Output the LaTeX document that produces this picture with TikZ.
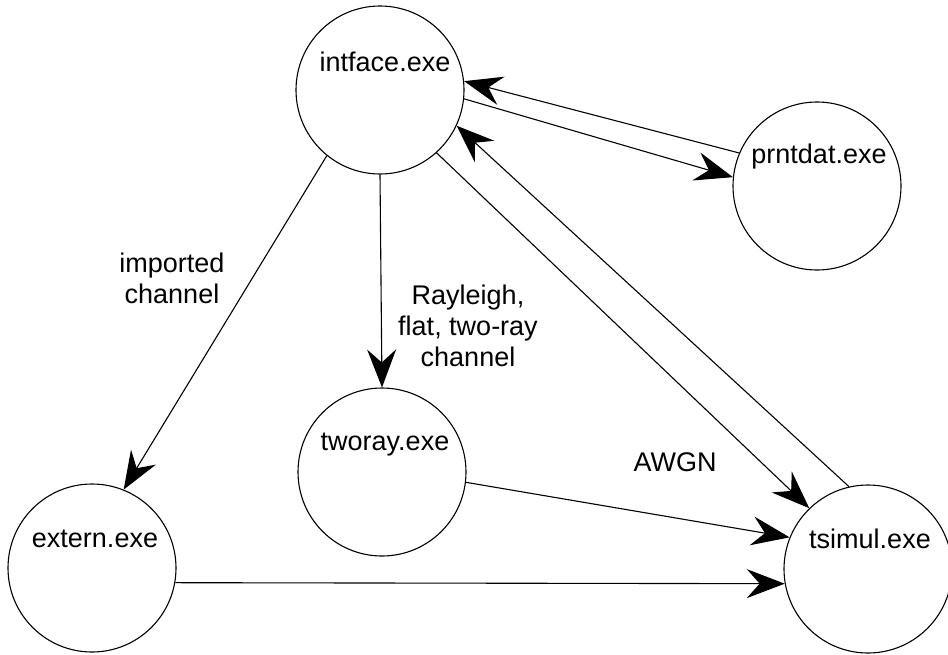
\documentclass[tikz,border=0pt]{standalone}
\usepackage{fontspec}
\setmainfont{Liberation Sans}
\usetikzlibrary{arrows.meta}
\begin{document}
\begin{tikzpicture}[x=1pt,y=-1pt,
  proc/.style={draw, circle, minimum size=168pt, inner sep=0pt, line width=1.1pt},
  lbl/.style={font=\fontsize{27}{31}\selectfont, inner sep=0pt, align=center},
  flow/.style={line width=1.1pt, -{Stealth[length=38pt, width=29pt, inset=13pt]}}
]
\useasboundingbox (0,0) rectangle (948,654);
\node[proc] (intface) at (380,90) {};
\node[proc] (prntdat) at (817,186) {};
\node[proc] (extern)  at (92,568) {};
\node[proc] (tworay)  at (382,472) {};
\node[proc] (tsimul)  at (868,569) {};

\node[lbl] (t1) at (385,62) {intface.exe};
\node[lbl] (t2) at (819,157) {prntdat.exe};
\node[lbl] (t3) at (95,539) {extern.exe};
\node[lbl] (t4) at (385,445) {tworay.exe};
\node[lbl] (t5) at (870,539) {tsimul.exe};

\node[lbl] (l1) at (172,278) {imported\\channel};
\node[lbl] (l2) at (468,326) {Rayleigh,\\flat, two-ray\\channel};
\node[lbl] (l3) at (675,462) {AWGN};

\draw[flow] (prntdat.157) -- (intface.6.7);
\draw[flow] (intface.-6.7) -- (prntdat.174);
\draw[flow] (intface.-48) -- (tsimul.134);
\draw[flow] (tsimul.103) -- (intface.-25);
\draw[flow] (intface.south) -- (tworay.north);
\draw[flow] (intface.-129) -- (extern.68);
\draw[flow] (tworay.-7) -- (tsimul.158);
\draw[flow] (extern.-10) -- (tsimul.190);
\end{tikzpicture}
\end{document}
